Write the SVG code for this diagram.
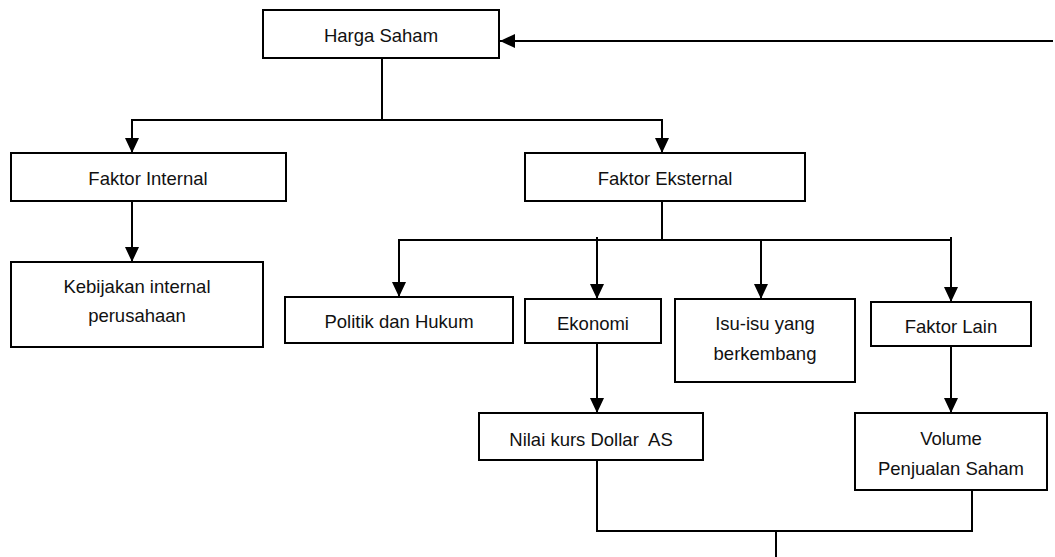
<svg xmlns="http://www.w3.org/2000/svg" width="1055" height="557" viewBox="0 0 1055 557">
<style>
.box{fill:#fff;stroke:#000;stroke-width:2}
.t{font-family:"Liberation Sans",Arial,sans-serif;font-size:18.5px;fill:#111;text-anchor:middle}
.ln{fill:none;stroke:#000;stroke-width:2}
</style>
<defs>
<marker id="ah" markerUnits="userSpaceOnUse" markerWidth="16" markerHeight="14" refX="15" refY="7" orient="auto">
<path d="M0,0 L15,7 L0,14 z" fill="#000"/>
</marker>
</defs>
<rect width="1055" height="557" fill="#fff"/>
<g id="connectors">
<line class="ln" x1="1053" y1="41" x2="500" y2="41" marker-end="url(#ah)"/>
<line class="ln" x1="382" y1="58" x2="382" y2="120"/>
<line class="ln" x1="131" y1="120" x2="663" y2="120"/>
<line class="ln" x1="132" y1="120" x2="132" y2="153" marker-end="url(#ah)"/>
<line class="ln" x1="662" y1="120" x2="662" y2="153" marker-end="url(#ah)"/>
<line class="ln" x1="132" y1="201" x2="132" y2="262" marker-end="url(#ah)"/>
<line class="ln" x1="662" y1="201" x2="662" y2="240"/>
<line class="ln" x1="398" y1="240" x2="952" y2="240"/>
<line class="ln" x1="399" y1="240" x2="399" y2="297" marker-end="url(#ah)"/>
<line class="ln" x1="597" y1="237" x2="597" y2="299" marker-end="url(#ah)"/>
<line class="ln" x1="761" y1="240" x2="761" y2="299" marker-end="url(#ah)"/>
<line class="ln" x1="951" y1="237" x2="951" y2="302" marker-end="url(#ah)"/>
<line class="ln" x1="597" y1="343" x2="597" y2="413" marker-end="url(#ah)"/>
<line class="ln" x1="951" y1="346" x2="951" y2="413" marker-end="url(#ah)"/>
<polyline class="ln" points="597,460 597,531 972,531 972,490"/>
<line class="ln" x1="776" y1="531" x2="776" y2="557"/>
</g>
<g id="harga-saham"><rect class="box" x="263" y="10" width="236" height="48"/><text class="t" x="381" y="42">Harga Saham</text></g>
<g id="faktor-internal"><rect class="box" x="11" y="153" width="275" height="48"/><text class="t" x="148" y="185">Faktor Internal</text></g>
<g id="kebijakan"><rect class="box" x="11" y="262" width="252" height="85"/><text class="t" x="137" y="293">Kebijakan internal</text><text class="t" x="137" y="322">perusahaan</text></g>
<g id="faktor-eksternal"><rect class="box" x="525" y="153" width="280" height="48"/><text class="t" x="665" y="185">Faktor Eksternal</text></g>
<g id="politik"><rect class="box" x="285" y="297" width="228" height="46"/><text class="t" x="399" y="328">Politik dan Hukum</text></g>
<g id="ekonomi"><rect class="box" x="525" y="299" width="136" height="44"/><text class="t" x="593" y="330">Ekonomi</text></g>
<g id="isu"><rect class="box" x="675" y="299" width="180" height="83"/><text class="t" x="765" y="330">Isu-isu yang</text><text class="t" x="765" y="360">berkembang</text></g>
<g id="faktor-lain"><rect class="box" x="871" y="302" width="160" height="44"/><text class="t" x="951" y="333">Faktor Lain</text></g>
<g id="nilai-kurs"><rect class="box" x="479" y="413" width="224" height="47"/><text class="t" x="591" y="446" xml:space="preserve">Nilai kurs Dollar  AS</text></g>
<g id="volume"><rect class="box" x="855" y="413" width="192" height="77"/><text class="t" x="951" y="445">Volume</text><text class="t" x="951" y="475">Penjualan Saham</text></g>
</svg>
